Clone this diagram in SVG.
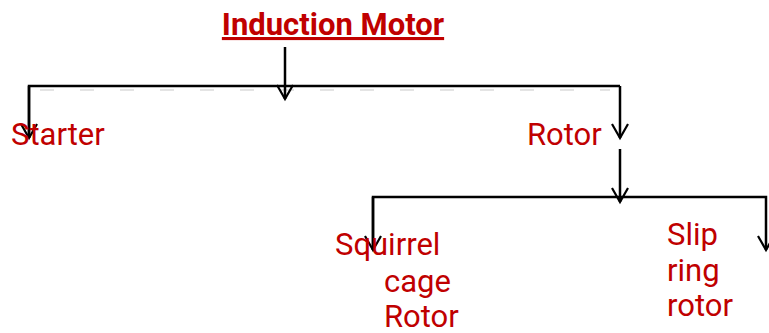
<svg xmlns="http://www.w3.org/2000/svg" width="769" height="333" viewBox="0 0 769 333">
<defs>
<marker id="arr" viewBox="-16 -10 20 20" markerWidth="20" markerHeight="20" refX="0" refY="0" orient="auto" markerUnits="userSpaceOnUse">
<path d="M-14,-8 L0,0 L-14,8" fill="none" stroke="#000" stroke-width="2.2"/>
</marker>
<style>
.ln{fill:none;stroke:#000;stroke-width:2.5}
.t{font-family:Roboto,"Liberation Sans",sans-serif;font-size:31px;fill:#c00000}
.title{font-weight:bold;text-decoration:underline}
</style>
</defs>
<rect width="769" height="333" fill="#fff"/>
<line x1="40" y1="90" x2="610" y2="90" stroke="#e4e4e4" stroke-width="2" stroke-dasharray="14,26"/>
<g id="connectors">
<path class="ln" d="M285,47 V99" marker-end="url(#arr)"/>
<path class="ln" d="M620,86 V138" marker-end="url(#arr)"/>
<path class="ln" d="M29,138 V86 H620"/>
<path class="ln" d="M29,86 V138" marker-end="url(#arr)"/>
<path class="ln" d="M620,149 V202" marker-end="url(#arr)"/>
<path class="ln" d="M373,250 V197 H766 V250" marker-end="url(#arr)"/>
<path class="ln" d="M373,197 V250" marker-end="url(#arr)"/>
</g>
<g id="induction-motor"><text class="t title" x="333" y="35" text-anchor="middle">Induction Motor</text></g>
<g id="starter"><text class="t" x="11" y="145">Starter</text></g>
<g id="rotor"><text class="t" x="527" y="145">Rotor</text></g>
<g id="squirrel-cage-rotor"><text class="t"><tspan x="335" y="255">Squirrel</tspan><tspan x="384" y="292">cage</tspan><tspan x="384" y="327">Rotor</tspan></text></g>
<g id="slip-ring-rotor"><text class="t"><tspan x="667" y="245">Slip</tspan><tspan x="667" y="281">ring</tspan><tspan x="667" y="316">rotor</tspan></text></g>
</svg>
